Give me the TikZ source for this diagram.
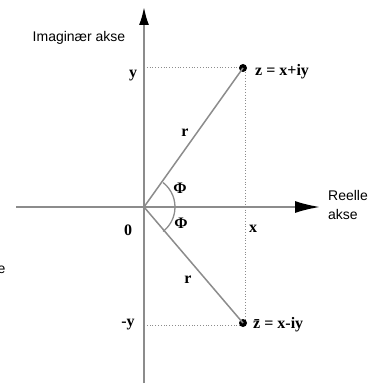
\documentclass[tikz,border=0pt]{standalone}
\usepackage{fontspec}
\setmainfont{Liberation Serif}
\newfontfamily\lsans{Liberation Sans}
\usetikzlibrary{arrows.meta}
\definecolor{axisgray}{RGB}{140,140,140}
\begin{document}
\begin{tikzpicture}[x=1pt,y=-1pt,
  lbl/.style={font=\fontsize{16}{16}\selectfont\bfseries, inner sep=0pt},
  sanslbl/.style={font=\lsans\fontsize{14}{19}\selectfont, inner sep=0pt},
  axis/.style={draw=axisgray, line width=2pt},
  rline/.style={draw=axisgray, line width=1.5pt},
  guide/.style={draw=axisgray, dotted, line width=0.8pt},
  anglearc/.style={draw=axisgray, line width=1.3pt},
  pt/.style={circle, fill=black, inner sep=0pt, minimum size=8pt}
]
\useasboundingbox (0,0) rectangle (374,385);
\fill[white] (0,0) rectangle (374,385);
% coordinates
\coordinate (O) at (144,207);
\coordinate (Ytop) at (144,7);
\coordinate (Ybot) at (144,383);
\coordinate (Xl) at (16,207);
\coordinate (Xr) at (320,207);
\coordinate (Gy) at (144,67);
\coordinate (Gz) at (245,67);
\coordinate (Gzb) at (245,325);
\coordinate (Gmy) at (144,325);
% guides
\draw[guide] (Gy) -- (Gz) -- (Gzb) -- (Gmy);
% axes
\draw[axis, -{Latex[length=18pt,width=10pt,color=black]}] (Ybot) -- (Ytop);
\draw[axis, -{Latex[length=25pt,width=12pt,color=black]}] (Xl) -- (Xr);
% points
\node[pt] (z) at (243,68) {};
\node[pt] (zb) at (243,323) {};
% radius lines
\draw[rline] (O) -- (z.center);
\draw[rline] (O) -- (zb.center);
% angle arc
\draw[anglearc] (O) ++(-52:31) arc[start angle=-52, end angle=52, radius=31];
% labels
\node[sanslbl] (ima) at (79,38) {Imaginær akse};
\node[lbl] (ylab) at (133,76) {y};
\node[lbl, anchor=west] (zlab) at (255,72) {z = x+iy};
\node[lbl] (r1) at (185,133) {r};
\node[lbl] (phi1) at (180,188) {Φ};
\node[lbl] (phi2) at (181,223) {Φ};
\node[lbl] (zero) at (128,230) {0};
\node[lbl] (xlab) at (253,229) {x};
\node[lbl] (r2) at (188,280) {r};
\node[lbl] (mylab) at (128,325) {-y};
\node[lbl, anchor=west] (zblab) at (253,325) {\={z} = x-iy};
\node[sanslbl, align=left, anchor=west] (reelle) at (328,205) {Reelle\\akse};
\node[sanslbl, anchor=east] (efrag) at (5.5,270) {e};
\end{tikzpicture}
\end{document}
